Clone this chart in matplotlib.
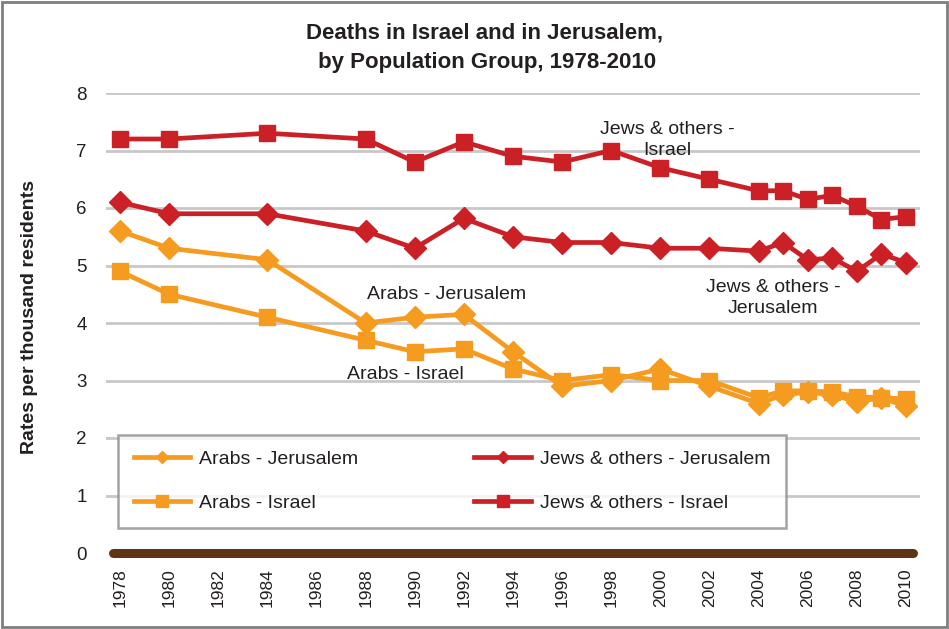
import matplotlib
matplotlib.use("Agg")
import matplotlib.pyplot as plt
from matplotlib.lines import Line2D
from matplotlib.patches import Rectangle

plt.rcParams['font.family'] = ['Liberation Sans', 'DejaVu Sans']

years = [1978, 1980, 1984, 1988, 1990, 1992, 1994, 1996, 1998, 2000, 2002,
         2004, 2005, 2006, 2007, 2008, 2009, 2010]
arabs_jerusalem = [5.6, 5.3, 5.1, 4.0, 4.1, 4.15, 3.5, 2.9, 3.0, 3.2, 2.9,
                   2.6, 2.75, 2.8, 2.75, 2.63, 2.7, 2.55]
arabs_israel = [4.9, 4.5, 4.1, 3.7, 3.5, 3.55, 3.2, 3.0, 3.1, 3.0, 3.0,
                2.7, 2.82, 2.82, 2.8, 2.72, 2.7, 2.68]
jews_jerusalem = [6.1, 5.9, 5.9, 5.6, 5.3, 5.82, 5.5, 5.4, 5.4, 5.3, 5.3,
                  5.25, 5.4, 5.1, 5.13, 4.9, 5.2, 5.05]
jews_israel = [7.2, 7.2, 7.3, 7.2, 6.8, 7.15, 6.9, 6.8, 7.0, 6.7, 6.5,
               6.3, 6.3, 6.15, 6.22, 6.03, 5.8, 5.85]
xticks = list(range(1978, 2011, 2))
yticks = [0, 1, 2, 3, 4, 5, 6, 7, 8]

ORANGE = '#F59B1F'
RED = '#CC2027'
BROWN = '#5E3416'
GRID = '#C8C8C8'
TXT = '#231F20'

fig = plt.figure(figsize=(9.49, 6.29), dpi=100)
ax = fig.add_axes([106/949, 1-553/629, (920-106)/949, (553-93)/629])

ax.set_xlim(1977.43, 2010.57)
ax.set_ylim(0, 8)
for y in yticks[1:]:
    ax.axhline(y, color=GRID, lw=2, zorder=1)
ax.plot([1978 - 0.3, 2010 + 0.3], [0, 0], color=BROWN, lw=6.5,
        solid_capstyle='round', zorder=3, clip_on=False)

ax.plot(years, arabs_jerusalem, color=ORANGE, lw=3.4, marker='D', ms=11, zorder=4)
ax.plot(years, arabs_israel, color=ORANGE, lw=3.4, marker='s', ms=11, zorder=4)
ax.plot(years, jews_jerusalem, color=RED, lw=3.4, marker='D', ms=11, zorder=4)
ax.plot(years, jews_israel, color=RED, lw=3.4, marker='s', ms=11, zorder=4)

for s in ax.spines.values():
    s.set_visible(False)
ax.set_xticks(xticks)
ax.set_xticklabels([str(x) for x in xticks], rotation=90, fontsize=12.5, color=TXT)
ax.set_yticks(yticks)
ax.set_yticklabels([str(y) for y in yticks], fontsize=13.5, color=TXT)
ax.tick_params(length=0)
ax.tick_params(axis='x', pad=11)
ax.tick_params(axis='y', pad=14)
ax.set_ylabel('Rates per thousand residents', fontsize=14, fontweight='bold',
              color=TXT)
ax.yaxis.set_label_coords((38 - 106) / 814, (553 - 317) / 460)

fig.text(484/949, 1-48/629, 'Deaths in Israel and in Jerusalem,\n by Population Group, 1978-2010',
         ha='center', va='center', fontsize=16, fontweight='bold', color=TXT,
         linespacing=1.55)

ax.text(2000.3, 7.18, 'Jews & others -\nIsrael', ha='center', va='center',
        fontsize=14, color=TXT, linespacing=1.3)
ax.text(1991.3, 4.49, 'Arabs - Jerusalem', ha='center', va='center',
        fontsize=14, color=TXT)
ax.text(1989.6, 3.1, 'Arabs - Israel', ha='center', va='center',
        fontsize=14, color=TXT)
ax.text(2004.6, 4.43, 'Jews & others -\nJerusalem', ha='center', va='center',
        fontsize=14, color=TXT, linespacing=1.3)

h_aj = Line2D([], [], color=ORANGE, lw=3.4, marker='D', ms=6)
h_jj = Line2D([], [], color=RED, lw=3.4, marker='D', ms=6)
h_ai = Line2D([], [], color=ORANGE, lw=3.4, marker='s', ms=8.5)
h_ji = Line2D([], [], color=RED, lw=3.4, marker='s', ms=8.5)
handles = [h_aj, h_ai, h_jj, h_ji]
labels = ['Arabs - Jerusalem', 'Arabs - Israel',
          'Jews & others - Jerusalem', 'Jews & others - Israel']
leg = fig.legend(handles, labels, loc='upper left',
                 bbox_to_anchor=(118/949, 1-435/629), ncol=2, fontsize=14,
                 frameon=True, fancybox=False, edgecolor='#8C8C8C',
                 handlelength=2.9, handletextpad=0.45, columnspacing=6.0,
                 labelspacing=1.36, borderpad=0.8, borderaxespad=0)
leg.get_frame().set_linewidth(1.8)
for t in leg.get_texts():
    t.set_color(TXT)

fig.patches.append(Rectangle((0.002, 0.003), 0.996, 0.994, transform=fig.transFigure,
                             fill=False, edgecolor='#7F7F7F', lw=2))

fig.savefig('out.png', dpi=100)
